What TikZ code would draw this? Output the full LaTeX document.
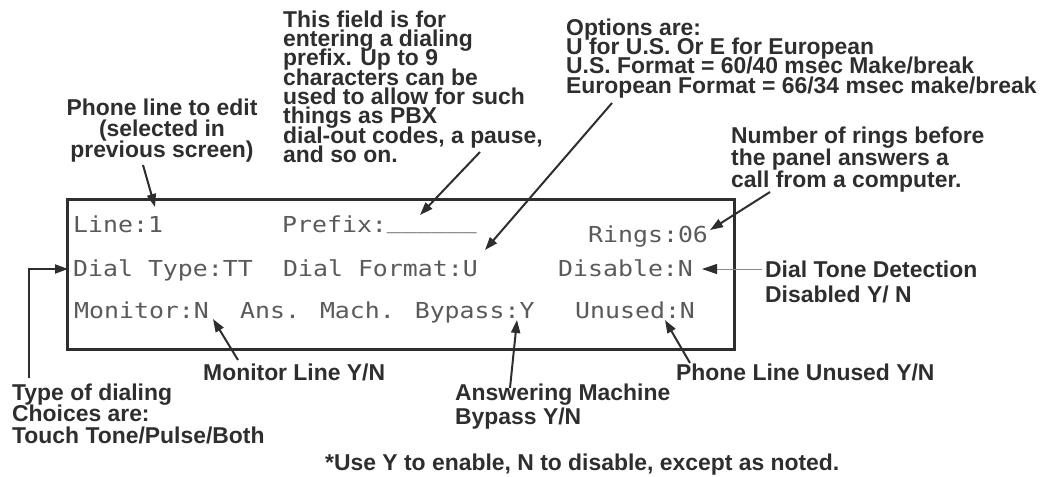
\documentclass[tikz,border=0pt]{standalone}
\usepackage{fontspec}
\setmainfont{Liberation Sans}
\newfontfamily\lcdfont[FakeStretch=1.13]{DejaVu Sans Mono}
\usetikzlibrary{arrows.meta}
\definecolor{ink}{HTML}{2E2E2E}
\definecolor{lcdgray}{HTML}{5A5A5A}
\lineskiplimit=-50pt\relax
\tikzset{
  lab/.style={inner sep=0pt, text=ink, align=left,
    font=\bfseries\fontsize{22.9}{19.3}\selectfont},
  lcd/.style={inner sep=0pt, anchor=base west, text=lcdgray,
    font=\lcdfont\fontsize{22}{24}\selectfont},
  conn/.style={draw=ink, line width=2pt, -{Triangle[length=13pt,width=9pt]}},
  thinconn/.style={draw=black!45, line width=0.9pt, -{Triangle[length=15pt,width=10pt,color=ink]}},
  panel/.style={draw=ink, line width=3pt}
}
\begin{document}
\begin{tikzpicture}[x=1pt,y=-1pt]
\useasboundingbox (0,0) rectangle (1040,476);

% panel
\draw[panel] (67,199) rectangle (734,349);

% LCD texts
\node[lcd] (line1) at (73,232) {Line:1};
\node[lcd] (prefix) at (282,232) {Prefix:\raisebox{4pt}{\_\_\_\_\_\_}};
\node[lcd] (rings) at (588,242) {Rings:06};
\node[lcd] (dialtype) at (73,276) {Dial Type:TT};
\node[lcd] (dialformat) at (283,276) {Dial Format:U};
\node[lcd] (disable) at (558,276) {Disable:N};
\node[lcd] (monitor) at (74,318) {Monitor:N};
\node[lcd] (bypass) at (240,318) {Ans. Mach. Bypass:Y};
\node[lcd] (unused) at (575,318) {Unused:N};

% labels
\node[lab, anchor=north, align=center, font=\bfseries\fontsize{22.9}{21}\selectfont] (lphone) at (162,98.6)
  {Phone line to edit\\(selected in\\previous screen)};
\node[lab, anchor=north west] (lprefix) at (283,10.6)
  {This field is for\\entering a dialing\\prefix. Up to 9\\characters can be\\used to allow for such\\things as PBX\\dial-out codes, a pause,\\and so on.};
\node[lab, anchor=north west] (loptions) at (566,18.6)
  {Options are:\\U for U.S. Or E for European\\U.S. Format = 60/40 msec Make/break\\European Format = 66/34 msec make/break};
\node[lab, anchor=north west, font=\bfseries\fontsize{22.9}{22}\selectfont] (lrings) at (731,126.6)
  {Number of rings before\\the panel answers a\\call from a computer.};
\node[lab, anchor=north west, font=\bfseries\fontsize{22.9}{25}\selectfont] (ltone) at (765,260.6)
  {Dial Tone Detection\\Disabled Y/ N};
\node[lab, anchor=base west] (lmonitor) at (203,380) {Monitor Line Y/N};
\node[lab, anchor=north west, font=\bfseries\fontsize{22.9}{24}\selectfont] (lans) at (455,383.6)
  {Answering Machine\\Bypass Y/N};
\node[lab, anchor=base west] (lunused) at (676,380) {Phone Line Unused Y/N};
\node[lab, anchor=north west, font=\bfseries\fontsize{22.9}{21.5}\selectfont] (ltype) at (12,383.6)
  {Type of dialing\\Choices are:\\Touch Tone/Pulse/Both};
\node[lab, anchor=base west] (lnote) at (325,470) {*Use Y to enable, N to disable, except as noted.};

% connector end points
\coordinate (sphone) at (143,165);
\coordinate (tphone) at (155,207);
\coordinate (sprefix) at (480,152);
\coordinate (tprefix) at (420,215);
\coordinate (soptions) at (612,103);
\coordinate (toptions) at (485,250);
\coordinate (srings) at (770,192);
\coordinate (trings) at (710,230);
\coordinate (stone) at (762,269);
\coordinate (ttone) at (702,269);
\coordinate (stype) at (29,378);
\coordinate (ctype) at (29,269);
\coordinate (ttype) at (68,269);
\coordinate (smonitor) at (238,360);
\coordinate (tmonitor) at (213,319);
\coordinate (sans) at (510,388);
\coordinate (tans) at (517,320);
\coordinate (sunused) at (690,363);
\coordinate (tunused) at (665,320);

% connectors
\draw[conn] (sphone) -- (tphone);
\draw[conn] (sprefix) -- (tprefix);
\draw[conn] (soptions) -- (toptions);
\draw[conn] (srings) -- (trings);
\draw[thinconn] (stone) -- (ttone);
\draw[conn] (stype) -- (ctype) -- (ttype);
\draw[conn] (smonitor) -- (tmonitor);
\draw[conn] (sans) -- (tans);
\draw[conn] (sunused) -- (tunused);
\end{tikzpicture}
\end{document}
